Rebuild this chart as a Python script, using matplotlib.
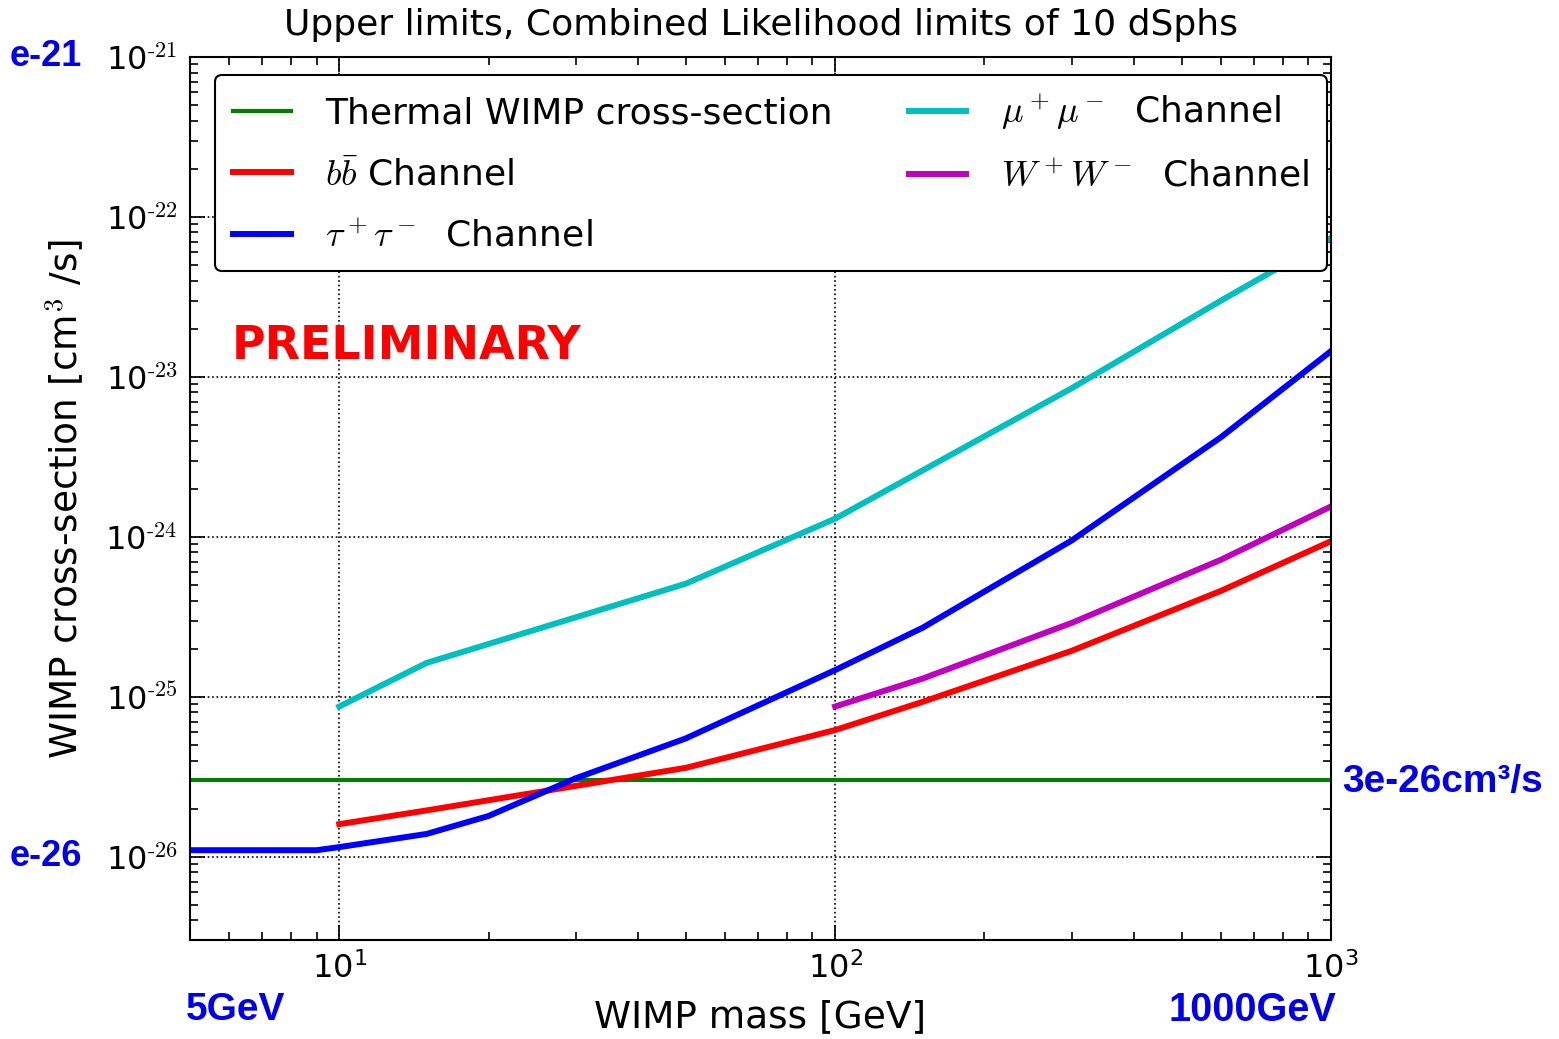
import numpy as np
import matplotlib
matplotlib.use("Agg")
import matplotlib.pyplot as plt
from matplotlib.ticker import FixedLocator, NullFormatter, FuncFormatter

plt.rcParams['mathtext.fontset'] = 'cm'
plt.rcParams['axes.unicode_minus'] = False

# data (mass in GeV, <sigma v> in cm^3/s)
thermal_xs = 3e-26

tau_mass = [5, 9, 10, 15, 20, 30, 50, 100, 150, 300, 600, 1000]
tau_xs = [1.1e-26, 1.1e-26, 1.15e-26, 1.39e-26, 1.8e-26, 3.1e-26, 5.5e-26,
          1.47e-25, 2.7e-25, 9.5e-25, 4.2e-24, 1.45e-23]

mu_mass = [10, 15, 50, 100, 150, 300, 600, 1000]
mu_xs = [8.7e-26, 1.63e-25, 5.1e-25, 1.3e-24, 2.6e-24, 8.5e-24, 3.0e-23, 7.4e-23]

bb_mass = [10, 15, 50, 100, 150, 300, 600, 1000]
bb_xs = [1.6e-26, 1.95e-26, 3.6e-26, 6.2e-26, 9.3e-26, 1.94e-25, 4.6e-25, 9.4e-25]

ww_mass = [100, 150, 300, 600, 1000]
ww_xs = [8.7e-26, 1.3e-25, 2.9e-25, 7.2e-25, 1.55e-24]

x_major = [10, 100, 1000]
y_major = [1e-26, 1e-25, 1e-24, 1e-23, 1e-22, 1e-21]


def pow10(v, pos):
    e = int(round(np.log10(v)))
    return r'$\mathdefault{10^{\text{%d}}}$' % e


fig = plt.figure(figsize=(15.59, 10.39), dpi=100)
ax = fig.add_axes([190/1559, 1-940/1039, 1141/1559, 883/1039])

ax.plot([5, 1000], [thermal_xs, thermal_xs], color=(0, 0.5, 0), lw=3,
        label='Thermal WIMP cross-section')
ax.plot(bb_mass, bb_xs, color='r', lw=4.3, label=r'$b\bar{b}$ Channel')
ax.plot(tau_mass, tau_xs, color='b', lw=4.3, label=r'$\tau^+\tau^-$  Channel')
ax.plot(mu_mass, mu_xs, color=(0, 0.75, 0.75), lw=4.3, label=r'$\mu^+\mu^-$  Channel')
ax.plot(ww_mass, ww_xs, color=(0.75, 0, 0.75), lw=4.3, label=r'$W^+W^-$  Channel')

ax.set_xscale('log')
ax.set_yscale('log')
ax.set_xlim(5, 1000)
ax.set_ylim(10**-26.52, 1e-21)

ax.xaxis.set_major_locator(FixedLocator(x_major))
ax.xaxis.set_minor_locator(FixedLocator([m * 10**k for k in range(0, 3) for m in range(2, 10)
                                         if 5 <= m * 10**k <= 1000]))
ax.yaxis.set_major_locator(FixedLocator(y_major))
ax.yaxis.set_minor_locator(FixedLocator([m * 10.0**k for k in range(-27, -21) for m in range(2, 10)
                                         if 10**-26.52 <= m * 10.0**k <= 1e-21]))
ax.xaxis.set_major_formatter(FuncFormatter(lambda v, p: r'$\mathdefault{10^{%d}}$' % round(np.log10(v))))
ax.yaxis.set_major_formatter(FuncFormatter(pow10))
ax.yaxis.set_minor_formatter(NullFormatter())
ax.xaxis.set_minor_formatter(NullFormatter())

ax.tick_params(which='both', direction='in', top=True, right=True, labelsize=23, width=1.2)
ax.tick_params(which='major', length=11, pad=9)
ax.tick_params(which='minor', length=6)
for s in ax.spines.values():
    s.set_linewidth(1.5)
ax.grid(True, which='major', color='k', linestyle=':', linewidth=1.2)

ax.set_title('Upper limits, Combined Likelihood limits of 10 dSphs', fontsize=26, pad=16)
ax.set_xlabel('WIMP mass [GeV]', fontsize=27, labelpad=10)
ax.set_ylabel('WIMP cross-section [cm$^3$ /s]', fontsize=27, labelpad=14)

ax.legend(loc='upper left', bbox_to_anchor=(0.022, 0.98), borderaxespad=0, ncol=2,
          fontsize=26, fancybox=True, framealpha=1, edgecolor='k', handlelength=1.6,
          columnspacing=2.1, borderpad=0.5, labelspacing=0.75, handletextpad=0.95)
ax.get_legend().get_frame().set_linewidth(1.5)

ax.text(0.037, 0.672, 'PRELIMINARY', transform=ax.transAxes, color='red',
        fontsize=33, fontweight='bold', va='center', ha='left')

# blue annotations around the frame
ann = dict(color='#0000ee', fontweight='bold', family='Liberation Sans')
fig.text(10/1559, 1-57/1039, 'e-21', fontsize=26, va='center', ha='left', **ann)
fig.text(10/1559, 1-857/1039, 'e-26', fontsize=26, va='center', ha='left', **ann)
fig.text(1342/1559, 1-782/1039, '3e-26cm³/s', fontsize=28, va='center', ha='left', **ann)
fig.text(236/1559, 1-1010/1039, '5GeV', fontsize=28, va='center', ha='center', **ann)
fig.text(1252/1559, 1-1010/1039, '1000GeV', fontsize=28.5, va='center', ha='center', **ann)

fig.savefig('out.png', dpi=100)
